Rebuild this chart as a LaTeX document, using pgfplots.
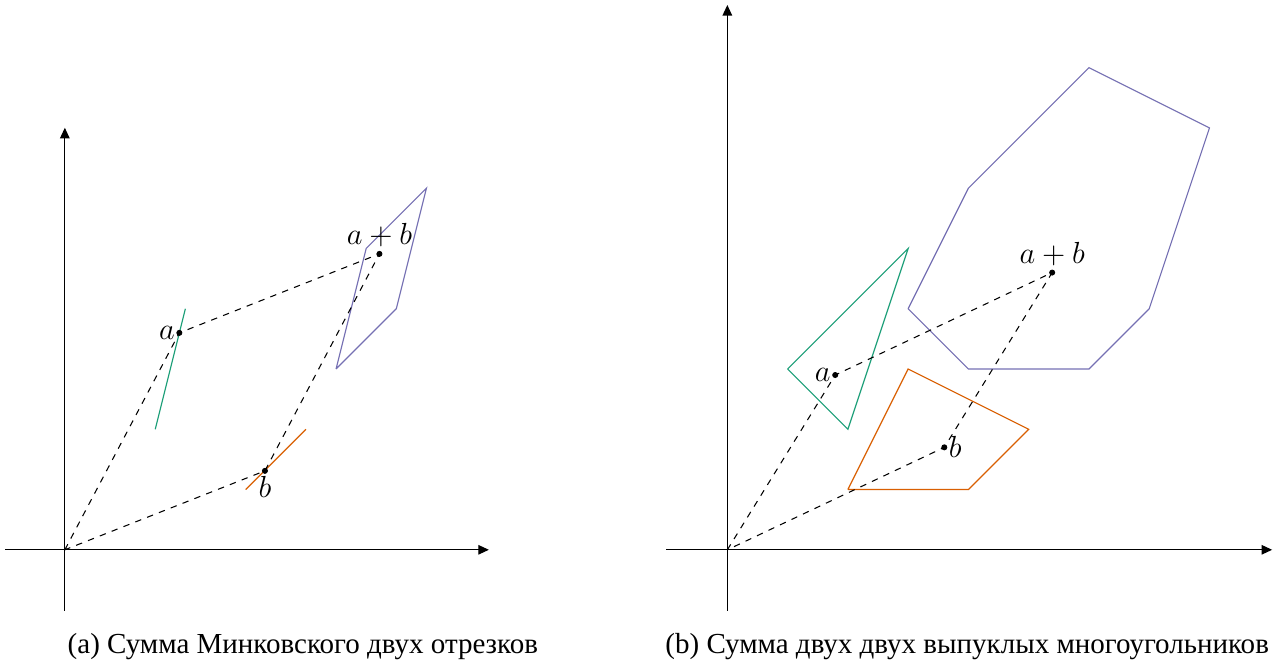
\documentclass[border=0pt]{standalone}
\usepackage{fontspec}
\setmainfont{Liberation Serif}
\usepackage{pgfplots}
\pgfplotsset{compat=1.18}
\usetikzlibrary{arrows.meta}
\definecolor{cg}{HTML}{1B9E77}
\definecolor{co}{HTML}{D95F02}
\definecolor{cp}{HTML}{7570B3}
\newcommand{\lblfont}{\fontsize{13.4}{16}\selectfont}
\newcommand{\capfont}{\fontsize{13.7}{16}\selectfont}
\begin{document}
\begin{tikzpicture}
\pgfplotsset{
  mink/.style={
    x=1cm, y=1cm,
    axis lines=middle,
    axis line style={-{Triangle[length=5pt,width=4.5pt]}, line width=0.55pt},
    xtick=\empty, ytick=\empty,
    enlargelimits=false,
    clip=false,
    anchor=origin,
  },
  shp/.style={line width=0.55pt},
}
\path (-1.076cm,-1.838cm) rectangle (20.05cm,9.123cm);
% ---------- left panel ----------
\begin{axis}[mink, at={(0cm,0cm)}, xmin=-0.993, xmax=7.036, ymin=-1.01, ymax=7.003]
\addplot[cg, shp] coordinates {(1.5,2) (2,4)};
\addplot[co, shp] coordinates {(3,1) (4,2)};
\addplot[cp, shp] coordinates {(4.5,3) (5,5) (6,6) (5.5,4) (4.5,3)};
\addplot[black, dashed, line width=0.5pt] coordinates {(0,0) (1.9,3.6) (5.22,4.91) (3.32,1.31) (0,0)};
\addplot[only marks, mark=*, mark size=1.2pt, black] coordinates {(1.9,3.6) (3.32,1.31) (5.22,4.91)};
\node[left, inner sep=2pt] at (axis cs:1.9,3.6) {\lblfont$a$};
\node[below, inner sep=2.5pt] at (axis cs:3.32,1.31) {\lblfont$b$};
\node[above, inner sep=3pt] at (axis cs:5.22,4.91) {\lblfont$a+b$};
\node at (axis cs:3.95,-1.61) {\capfont (a) Сумма Минковского двух отрезков};
\end{axis}
% ---------- right panel ----------
\begin{axis}[mink, at={(10.993cm,0cm)}, xmin=-1.01, xmax=9.04, ymin=-1.01, ymax=9.04]
\addplot[cg, shp] coordinates {(1,3) (3,5) (2,2) (1,3)};
\addplot[co, shp] coordinates {(2,1) (4,1) (5,2) (3,3) (2,1)};
\addplot[cp, shp] coordinates {(3,4) (4,6) (6,8) (8,7) (7,4) (6,3) (4,3) (3,4)};
\addplot[black, dashed, line width=0.5pt] coordinates {(0,0) (1.79,2.9) (5.39,4.6) (3.6,1.7) (0,0)};
\addplot[only marks, mark=*, mark size=1.2pt, black] coordinates {(1.79,2.9) (3.6,1.7) (5.39,4.6)};
\node[left, inner sep=2pt] at (axis cs:1.79,2.9) {\lblfont$a$};
\node[right, inner sep=2pt] at (axis cs:3.6,1.7) {\lblfont$b$};
\node[above, inner sep=3pt] at (axis cs:5.39,4.6) {\lblfont$a+b$};
\node at (axis cs:3.98,-1.61) {\capfont (b) Сумма двух двух выпуклых многоугольников};
\end{axis}
\end{tikzpicture}
\end{document}
